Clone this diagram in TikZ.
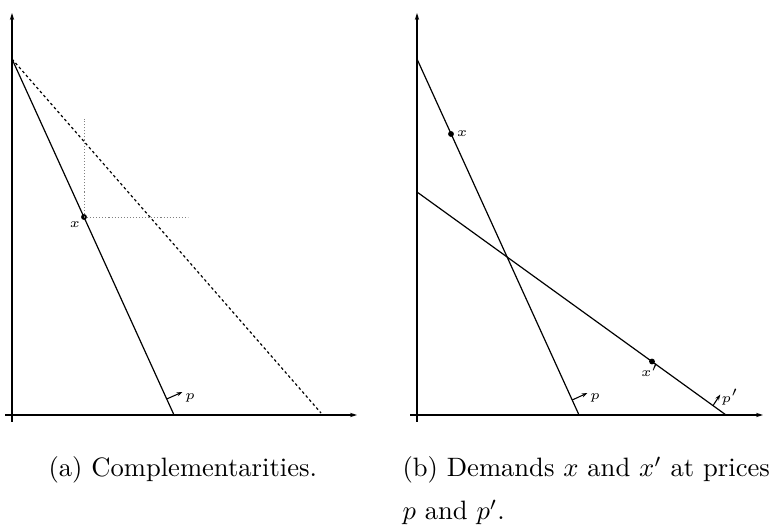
\documentclass[tikz,border=0pt]{standalone}
\usetikzlibrary{arrows.meta}
\begin{document}
\begin{tikzpicture}[x=0.376pt,y=-0.376pt,
  axis/.style={line width=0.45pt,-{Stealth[length=2.6pt,width=1.6pt]}},
  budget/.style={line width=0.45pt},
  dashline/.style={line width=0.45pt,dash pattern=on 1pt off 1pt},
  dotline/.style={line width=0.35pt,gray,dash pattern=on 0.4pt off 0.75pt},
  normarrow/.style={line width=0.4pt,-{Stealth[length=2.2pt,width=1.5pt]}},
  ptdot/.style={circle,fill=black,inner sep=0pt,minimum size=2.2pt},
  lbl/.style={inner sep=0.5pt,font=\fontsize{5.5}{6.6}\selectfont},
  captext/.style={inner sep=0pt,anchor=base west,font=\fontsize{10}{12}\selectfont}]
\useasboundingbox (0,0) rectangle (774,529);
% ---------- left panel ----------
\coordinate (aYb) at (12,422);
\coordinate (aYt) at (12,13);
\coordinate (aXl) at (5,415);
\coordinate (aXr) at (357,415);
\draw[axis] (aYb) -- (aYt);
\draw[axis] (aXl) -- (aXr);
\coordinate (aTop) at (12,59);
\coordinate (aBot) at (174,415);
\coordinate (aDBot) at (321,413);
\draw[budget] (aTop) -- (aBot);
\draw[dashline] (aTop) -- (aDBot);
\coordinate (aVt) at (84,119);
\coordinate (aHr) at (188,217);
\node[ptdot] (ax) at (84,217) {};
\draw[dotline] (ax.center) -- (aVt);
\draw[dotline] (ax.center) -- (aHr);
\node[lbl] (axl) at (75,225) {$x$};
\coordinate (apS) at (166.7,399);
\coordinate (apE) at (182.5,392);
\draw[normarrow] (apS) -- (apE);
\node[lbl] (apl) at (190,398) {$p$};
% ---------- right panel ----------
\coordinate (bYb) at (417,422);
\coordinate (bYt) at (417,13);
\coordinate (bXl) at (410,415);
\coordinate (bXr) at (763,415);
\draw[axis] (bYb) -- (bYt);
\draw[axis] (bXl) -- (bXr);
\coordinate (bTop) at (417,59);
\coordinate (bBot) at (579,415);
\coordinate (bTop2) at (417,192);
\coordinate (bBot2) at (726,415);
\draw[budget] (bTop) -- (bBot);
\draw[budget] (bTop2) -- (bBot2);
\node[ptdot] (bx) at (451,134) {};
\node[lbl,anchor=west] (bxl) at (455,134) {$x$};
\node[ptdot] (bxp) at (652,361.5) {};
\node[lbl] (bxpl) at (650,370) {$x'$};
\coordinate (bpS) at (572.2,400);
\coordinate (bpE) at (587.5,393);
\draw[normarrow] (bpS) -- (bpE);
\node[lbl] (bpl) at (595,398) {$p$};
\coordinate (bqS) at (713,405.6);
\coordinate (bqE) at (720.3,394.5);
\draw[normarrow] (bqS) -- (bqE);
\node[lbl] (bql) at (730,397) {$p'$};
% ---------- captions ----------
\node[captext] (capa) at (48,477) {(a) Complementarities.};
\node[captext] (capb1) at (402,477) {(b) Demands $x$ and $x'$ at prices};
\node[captext] (capb2) at (402,520) {$p$ and $p'$.};
\end{tikzpicture}
\end{document}
